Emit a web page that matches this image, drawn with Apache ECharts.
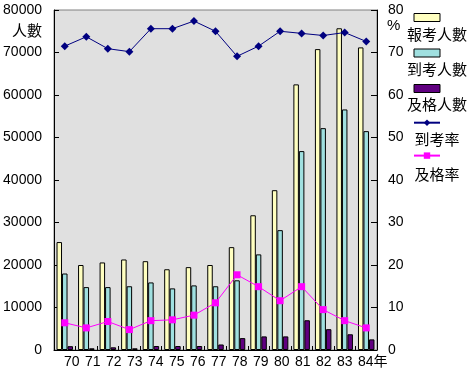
<!DOCTYPE html>
<html>
<head>
<meta charset="utf-8">
<script src="https://cdn.jsdelivr.net/npm/echarts@6/dist/echarts.min.js"></script>
<style>html,body{margin:0;padding:0;background:#fff;}#c{width:470px;height:370px;}</style>
</head>
<body>
<div id="c"></div>
<script>
var categories = ['70','71','72','73','74','75','76','77','78','79','80','81','82','83','84'];
var tickLabels = ['70','71','72','73','74','75','76','77','78','79','80','81','82','83','84年'];
var seriesNames = ['報考人數','到考人數','及格人數','到考率','及格率'];
var applicants = [25400, 20000, 20600, 21300, 20900, 19000, 19500, 20000, 24200, 31700, 37600, 62500, 70800, 75700, 71200];
var attendees = [18000, 14800, 14800, 15000, 15900, 14500, 15200, 15000, 16400, 22500, 28200, 46800, 52200, 56600, 51500];
var passed = [900, 400, 630, 400, 940, 940, 940, 1300, 2800, 3200, 3200, 7000, 4900, 3700, 2500];
var attendanceRate = [71.5, 73.7, 70.9, 70.2, 75.6, 75.6, 77.4, 75.0, 69.1, 71.5, 75.0, 74.5, 74.0, 74.7, 72.6];
var passRate = [6.4, 5.2, 6.7, 4.8, 6.9, 7.1, 8.2, 11.1, 17.7, 14.9, 11.6, 14.9, 9.5, 6.9, 5.2];
var leftTicks = [0, 80000, 10000];
var rightTicks = [0, 80, 10];

var latin = '"Liberation Sans", "Noto Sans CJK TC", sans-serif';
var cjk = '"Noto Sans CJK TC", "Liberation Sans", sans-serif';
var plain = function (v) { return String(v); };
var chart = echarts.init(document.getElementById('c'));
var axisLineStyle = {show: true, lineStyle: {color: '#000', width: 1}};
var barIconStyle = {borderColor: '#000', borderWidth: 1};
chart.setOption({
  animation: false,
  backgroundColor: '#fff',
  grid: [
    {left: 54, right: 93, top: 10, bottom: 20, show: true, backgroundColor: '#e0e0e0', borderColor: '#808080', borderWidth: 1},
    {left: 53.5, width: 315, top: 10, bottom: 20, show: false}
  ],
  legend: [
    {
      orient: 'vertical', left: 413, top: 13, padding: 0,
      itemWidth: 26, itemHeight: 8, itemGap: 26.5,
      data: [
        {name: seriesNames[0], icon: 'rect', itemStyle: barIconStyle},
        {name: seriesNames[1], icon: 'rect', itemStyle: barIconStyle},
        {name: seriesNames[2], icon: 'rect', itemStyle: barIconStyle},
        {name: seriesNames[3]},
        {name: seriesNames[4]}
      ],
      formatter: function () { return ''; },
      textStyle: {fontSize: 1, lineHeight: 1}
    },
    {
      orient: 'vertical', left: 400, top: 26, padding: 0,
      itemWidth: 0, itemHeight: 0, itemGap: 19,
      data: seriesNames,
      formatter: function (n) { return '{a|' + n + '}'; },
      textStyle: {
        color: '#000', fontFamily: cjk, fontSize: 15, lineHeight: 16,
        rich: {a: {width: 62, align: 'center', fontFamily: cjk, fontSize: 15, lineHeight: 16, color: '#000'}}
      }
    }
  ],
  xAxis: [
    {
      type: 'category', gridIndex: 0, data: categories,
      axisLine: axisLineStyle,
      axisTick: {show: true, inside: true, length: 4, interval: 0, lineStyle: {color: '#000'}},
      axisLabel: {show: false},
      splitLine: {show: false}
    },
    {
      type: 'category', gridIndex: 1, data: tickLabels,
      axisLine: {show: false}, axisTick: {show: false},
      axisLabel: {show: true, interval: 0, hideOverlap: false, align: 'left', margin: 5, color: '#000', fontSize: 14, fontFamily: latin},
      splitLine: {show: false}
    }
  ],
  yAxis: [
    {
      type: 'value', gridIndex: 0, min: leftTicks[0], max: leftTicks[1], interval: leftTicks[2],
      name: '人數', nameLocation: 'end', nameGap: -20,
      nameTextStyle: {color: '#000', fontFamily: cjk, fontSize: 15, align: 'right', verticalAlign: 'middle', padding: [0, 12, 0, 0]},
      axisLine: axisLineStyle,
      axisTick: {show: true, inside: true, length: 5, lineStyle: {color: '#000'}},
      axisLabel: {color: '#000', fontSize: 14, fontFamily: latin, margin: 12, formatter: plain},
      splitLine: {show: false}
    },
    {
      type: 'value', gridIndex: 0, position: 'right', min: rightTicks[0], max: rightTicks[1], interval: rightTicks[2],
      name: '%', nameLocation: 'end', nameGap: -16,
      nameTextStyle: {color: '#000', fontFamily: latin, fontSize: 15, align: 'left', verticalAlign: 'middle', padding: [0, 0, 0, 10]},
      axisLine: axisLineStyle,
      axisTick: {show: true, inside: true, length: 6, lineStyle: {color: '#000'}},
      axisLabel: {color: '#000', fontSize: 14, fontFamily: latin, margin: 11, formatter: plain},
      splitLine: {show: false}
    },
    {type: 'value', gridIndex: 1, min: 0, max: 1, show: false}
  ],
  series: [
    {name: seriesNames[0], type: 'bar', xAxisIndex: 0, yAxisIndex: 0, data: applicants, barWidth: 5.5, barGap: '0%',
     itemStyle: {color: '#ffffc0', borderColor: '#000', borderWidth: 1}},
    {name: seriesNames[1], type: 'bar', xAxisIndex: 0, yAxisIndex: 0, data: attendees, barWidth: 5.5, barGap: '0%',
     itemStyle: {color: '#a0e0e0', borderColor: '#000', borderWidth: 1}},
    {name: seriesNames[2], type: 'bar', xAxisIndex: 0, yAxisIndex: 0, data: passed, barWidth: 5.5, barGap: '0%',
     itemStyle: {color: '#600080', borderColor: '#000', borderWidth: 1}},
    {name: seriesNames[3], type: 'line', xAxisIndex: 0, yAxisIndex: 1, data: attendanceRate, z: 5,
     symbol: 'diamond', symbolSize: 8, showAllSymbol: true,
     lineStyle: {color: '#000080', width: 1}, itemStyle: {color: '#000080'}},
    {name: seriesNames[4], type: 'line', xAxisIndex: 0, yAxisIndex: 1, data: passRate, z: 5,
     symbol: 'rect', symbolSize: 7, showAllSymbol: true,
     lineStyle: {color: '#ff00ff', width: 1}, itemStyle: {color: '#ff00ff'}}
  ]
});
</script>
</body>
</html>
